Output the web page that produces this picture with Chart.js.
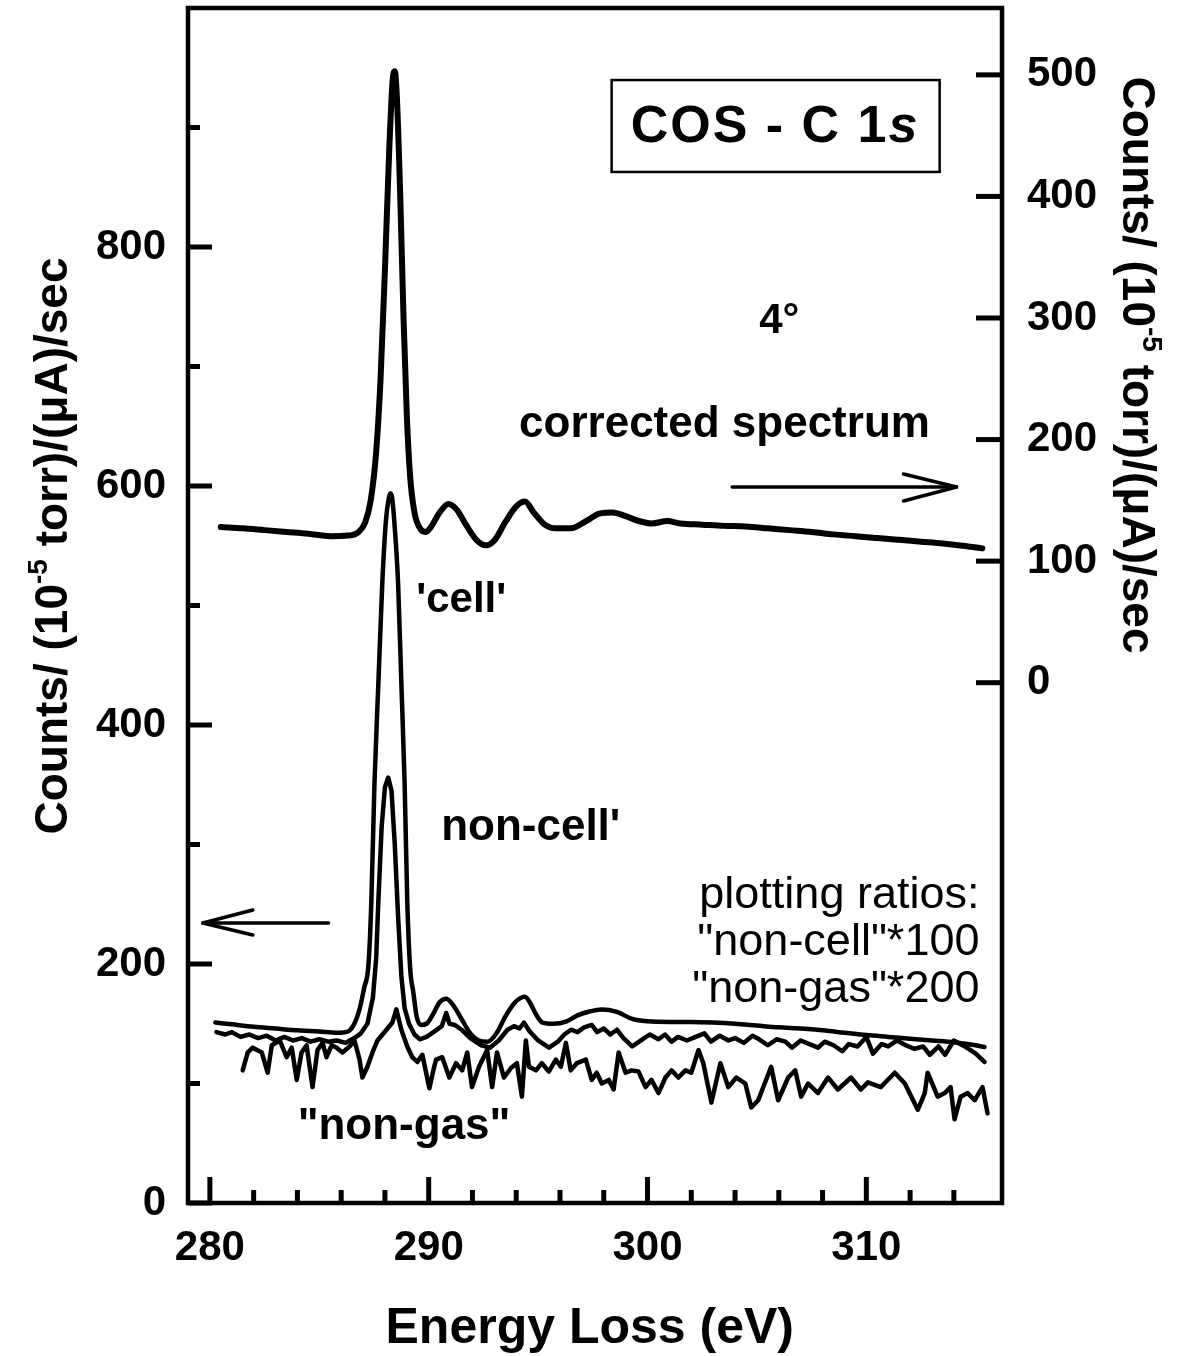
<!DOCTYPE html>
<html>
<head>
<meta charset="utf-8">
<script src="https://cdn.jsdelivr.net/npm/chart.js@4.4.1/dist/chart.umd.min.js"></script>
<style>
  html, body { margin: 0; padding: 0; background: #fff; }
  #wrap { width: 1187px; height: 1356px; }
</style>
</head>
<body>
<div id="wrap"><canvas id="myChart" width="1187" height="1356"></canvas></div>
<script>
  // tick values and labels
  var xTicks = [280, 282, 284, 286, 288, 290, 292, 294, 296, 298, 300, 302, 304, 306, 308, 310, 312, 314];
  var xLabels = [280, 290, 300, 310];
  var leftTicks = [0, 100, 200, 300, 400, 500, 600, 700, 800, 900];
  var leftLabels = [0, 200, 400, 600, 800];
  var rightTicks = [0, 100, 200, 300, 400, 500];

  // [energy loss (eV), counts]
  // corrected spectrum -> right axis
  var correctedSpectrum = [
    [280.5,128],[281.5,127],[282.5,125.5],[283.5,124],[284.5,122.5],[285.5,120.5],[286.3,121],[286.8,124],
    [287.1,132],[287.35,150],[287.6,190],[287.8,250],[288.0,340],[288.2,440],[288.35,495],[288.45,503],
    [288.55,480],[288.7,400],[288.85,300],[289.0,220],[289.15,170],[289.35,140],[289.6,127],[289.85,124],
    [290.1,128],[290.5,140],[290.9,147],[291.3,142],[291.7,130],[292.2,117],[292.6,113],[293.0,117],
    [293.5,132],[294.0,145],[294.4,149],[294.8,140],[295.3,130],[295.8,127],[296.5,127],[297.2,133],
    [297.8,139],[298.4,140],[299.0,137],[299.6,133],[300.2,131],[300.9,133],[301.5,131],[302.5,130],
    [303.5,129],[304.5,128.5],[305.5,127],[306.5,125.5],[307.5,124],[308.5,122],[309.5,120.5],[310.5,119],
    [311.5,117.5],[312.5,116],[313.5,114.5],[314.5,112.5],[315.3,110.5]
  ];
  // 'cell' -> left axis
  var cellSpectrum = [
    [280.25,151],[281.0,149.5],[282.0,147.5],[283.0,146],[284.0,144.5],[285.0,143.5],[285.8,142.5],[286.3,143.5],
    [286.6,150],[286.85,163],[287.05,180],[287.25,200],[287.38,253],[287.52,350],[287.7,435],[287.88,519],
    [288.05,572],[288.18,590],[288.25,594],[288.33,590],[288.45,565],[288.6,519],[288.75,435],[288.9,351],
    [289.02,253],[289.15,197],[289.3,176],[289.45,156],[289.65,149],[289.9,150],[290.2,158],[290.5,168],
    [290.8,171],[291.1,166],[291.5,154],[291.9,142],[292.3,136],[292.7,135],[293.1,142],[293.5,156],
    [293.9,167],[294.15,171],[294.4,172.5],[294.65,167],[294.9,158],[295.2,151],[295.7,150],[296.3,152],[296.8,157],
    [297.3,160],[297.9,162],[298.6,160],[299.3,154],[300.0,152],[301,151.5],[302,151.5],[303,151],
    [304,150],[305,148.5],[306,147],[307,146],[308,144.5],[309,142.5],[310,140.5],[311,139],
    [312,137.5],[313,136],[314,134.5],[315,132],[315.4,130.5]
  ];
  // "non-cell" * 100 -> left axis
  var nonCellSpectrum = [
    [280.3,143],[280.7,141],[281.0,143],[281.4,139],[281.8,141],[282.2,138],[282.6,140],[283.0,136],
    [283.4,139],[283.8,136],[284.2,138],[284.6,135],[285.0,137],[285.4,135],[285.8,136],[286.2,134],
    [286.6,138],[286.9,142],[287.2,150],[287.45,172],[287.6,205],[287.7,253],[287.85,315],[288.0,348],
    [288.15,356],[288.3,345],[288.45,300],[288.6,240],[288.75,190],[288.9,163],[289.1,150],[289.35,141],
    [289.6,137],[289.9,139],[290.3,144],[290.6,148],[290.8,159],[290.95,150],[291.2,149],[291.5,145],
    [291.9,138],[292.4,132],[292.8,130],[293.2,136],[293.6,145],[293.9,148],[294.15,146],[294.35,151],
    [294.6,144],[295.0,136],[295.5,130],[295.9,135],[296.2,141],[296.5,145],[296.8,143],[297.1,147],
    [297.45,149],[297.7,143],[298.0,146],[298.3,141],[298.6,145],[298.9,138],[299.3,131],[299.7,136],
    [300.1,141],[300.5,137],[300.8,141],[301.1,135],[301.4,139],[301.8,136],[302.2,139],[302.6,142],
    [302.9,135],[303.3,140],[303.7,136],[304.0,138],[304.4,134],[304.8,140],[305.1,137],[305.5,132],
    [305.9,137],[306.3,135],[306.6,130],[307.0,136],[307.4,133],[307.8,130],[308.1,135],[308.5,132],
    [308.9,127],[309.2,133],[309.6,131],[310.0,139],[310.3,125],[310.7,133],[311.0,131],[311.4,136],
    [311.8,132],[312.2,129],[312.6,131],[312.9,124],[313.3,131],[313.6,124],[314.0,136],[314.5,131],
    [315.0,125],[315.4,118]
  ];
  // "non-gas" * 200 -> left axis
  var nonGasSpectrum = [
    [281.5,111],[281.73,126],[281.96,130],[282.37,126],[282.64,109],[282.83,132],[283.19,136],[283.51,122],
    [283.74,130],[283.97,103],[284.19,126],[284.42,132],[284.69,97],[284.92,128],[285.15,134],[285.33,122],
    [285.56,132],[285.79,130],[286.06,126],[286.38,131],[286.61,136],[286.84,120],[286.97,105],[287.2,114],
    [287.43,126],[287.66,136],[288.07,145],[288.34,151],[288.52,162],[288.75,145],[289.02,131],[289.25,122],
    [289.48,118],[289.71,124],[290.03,96],[290.25,114],[290.34,120],[290.62,122],[290.94,105],[291.25,117],
    [291.53,111],[291.76,126],[291.98,97],[292.3,114],[292.67,128],[292.9,97],[293.12,126],[293.44,105],
    [293.76,113],[294.03,117],[294.26,89],[294.44,136],[294.58,114],[294.9,111],[295.17,117],[295.49,110],
    [295.81,120],[296.04,114],[296.27,134],[296.49,111],[296.77,117],[297.18,120],[297.45,103],[297.68,109],
    [297.91,100],[298.23,103],[298.45,95],[298.68,126],[299.0,109],[299.27,111],[299.59,110],[299.91,97],
    [300.18,103],[300.5,92],[300.82,105],[301.1,111],[301.41,105],[301.73,111],[302.0,109],[302.33,128],
    [302.55,117],[302.92,84],[303.33,117],[303.69,97],[304.06,105],[304.47,100],[304.74,80],[305.06,86],
    [305.65,114],[305.97,86],[306.43,105],[306.75,111],[307.02,89],[307.34,100],[307.79,92],[308.25,105],
    [308.7,95],[309.3,105],[309.75,95],[310.07,101],[310.66,97],[311.3,109],[311.76,100],[312.35,78],
    [312.67,92],[312.8,109],[313.26,89],[313.58,92],[313.85,97],[314.03,70],[314.31,89],[314.63,92],
    [314.95,86],[315.31,97],[315.54,75]
  ];

  var FONT = "'Liberation Sans', Arial, Helvetica, sans-serif";

  function toPoints(arr) {
    return arr.map(function (p) { return { x: p[0], y: p[1] }; });
  }

  function line(ctx, x1, y1, x2, y2) {
    ctx.beginPath();
    ctx.moveTo(x1, y1);
    ctx.lineTo(x2, y2);
    ctx.stroke();
  }

  // rotated axis title with the 10^-5 superscript
  function axisTitle(ctx, cx, cy, angle, size) {
    var parts = [
      { t: 'Counts/ (10', s: size, dy: 0 },
      { t: '-5', s: Math.round(size * 0.6), dy: -size * 0.42 },
      { t: ' torr)/(\u03bcA)/sec', s: size, dy: 0 }
    ];
    ctx.save();
    ctx.translate(cx, cy);
    ctx.rotate(angle);
    var total = 0;
    parts.forEach(function (p) {
      ctx.font = 'bold ' + p.s + 'px ' + FONT;
      p.w = ctx.measureText(p.t).width;
      total += p.w;
    });
    var xx = -total / 2;
    ctx.textAlign = 'left';
    ctx.textBaseline = 'alphabetic';
    parts.forEach(function (p) {
      ctx.font = 'bold ' + p.s + 'px ' + FONT;
      ctx.fillText(p.t, xx, size * 0.36 + p.dy);
      xx += p.w;
    });
    ctx.restore();
  }

  var decorations = {
    id: 'decorations',
    afterDraw: function (chart) {
      var ctx = chart.ctx, a = chart.chartArea;
      var sx = chart.scales.x, sl = chart.scales.y, sr = chart.scales.y2;
      function X(v) { return sx.getPixelForValue(v); }
      function Y(v) { return sl.getPixelForValue(v); }
      function text(str, xv, yv, size, weight, align) {
        ctx.font = weight + ' ' + size + 'px ' + FONT;
        ctx.textAlign = align;
        ctx.textBaseline = 'alphabetic';
        ctx.fillText(str, X(xv), Y(yv));
      }

      ctx.save();
      ctx.strokeStyle = '#000';
      ctx.fillStyle = '#000';
      ctx.lineCap = 'butt';

      // frame
      ctx.lineWidth = 4.5;
      ctx.strokeRect(a.left, a.top, a.right - a.left, a.bottom - a.top);

      // inward ticks
      ctx.lineWidth = 5;
      xTicks.forEach(function (v) {
        var len = xLabels.indexOf(v) >= 0 ? 26 : 13;
        line(ctx, X(v), a.bottom, X(v), a.bottom - len);
      });
      leftTicks.forEach(function (v) {
        var len = leftLabels.indexOf(v) >= 0 ? 24 : 12;
        line(ctx, a.left, Y(v), a.left + len, Y(v));
      });
      rightTicks.forEach(function (v) {
        var p = sr.getPixelForValue(v);
        line(ctx, a.right, p, a.right - 26, p);
      });

      // COS - C 1s box
      ctx.lineWidth = 2.5;
      ctx.strokeRect(X(298.36), Y(939.7), X(313.35) - X(298.36), Y(862.8) - Y(939.7));
      ctx.font = 'bold 52px ' + FONT;
      ctx.letterSpacing = '2px';
      var w1 = ctx.measureText('COS - C 1').width;
      ctx.font = 'italic bold 52px ' + FONT;
      var w2 = ctx.measureText('s').width;
      var left0 = X(305.83) - (w1 + w2) / 2;
      ctx.textAlign = 'left';
      ctx.textBaseline = 'alphabetic';
      ctx.font = 'bold 52px ' + FONT;
      ctx.fillText('COS - C 1', left0, Y(887.9));
      ctx.font = 'italic bold 52px ' + FONT;
      ctx.fillText('s', left0 + w1, Y(887.9));
      ctx.letterSpacing = '0px';

      // annotations
      text('4\u00b0', 306.02, 728, 42, 'bold', 'center');
      text('corrected spectrum', 294.13, 641, 44, 'bold', 'left');
      text("'cell'", 289.43, 494.6, 42, 'bold', 'left');
      text("non-cell'", 290.57, 303.8, 44, 'bold', 'left');
      text('"non-gas"', 284.01, 53.6, 44, 'bold', 'left');
      text('plotting ratios:', 315.17, 246.9, 45, 'normal', 'right');
      text('"non-cell"*100', 315.17, 207.5, 45, 'normal', 'right');
      text('"non-gas"*200', 315.17, 168.2, 45, 'normal', 'right');

      // arrows
      ctx.lineWidth = 3.5;
      ctx.lineCap = 'round';
      var ya = Y(599.2);
      line(ctx, X(303.87), ya, X(314.12), ya);
      line(ctx, X(311.7), ya - 13, X(314.12), ya);
      line(ctx, X(311.7), ya + 14, X(314.12), ya);
      var yb = Y(234.3);
      line(ctx, X(285.42), yb, X(279.68), yb);
      line(ctx, X(281.96), yb - 13, X(279.68), yb);
      line(ctx, X(281.96), yb + 12, X(279.68), yb);

      // axis titles
      axisTitle(ctx, 50, 546, -Math.PI / 2, 46);
      axisTitle(ctx, 1140, 365, Math.PI / 2, 46);
      ctx.font = 'bold 50px ' + FONT;
      ctx.textAlign = 'center';
      ctx.textBaseline = 'alphabetic';
      ctx.fillText('Energy Loss (eV)', X(297.36), a.bottom + 140);

      ctx.restore();
    }
  };

  Chart.defaults.font.family = FONT;
  Chart.defaults.color = '#000';

  var tickFont = { family: FONT, size: 42, weight: 'bold' };

  function fitY(width) {
    return function (s) {
      s.width = width;
      s.paddingTop = 0;
      s.paddingBottom = 0;
    };
  }

  var ctx = document.getElementById('myChart').getContext('2d');
  var chart = new Chart(ctx, {
    type: 'line',
    data: {
      datasets: [{
        label: 'corrected spectrum',
        data: toPoints(correctedSpectrum),
        yAxisID: 'y2',
        borderColor: '#000',
        borderWidth: 6,
        pointRadius: 0,
        cubicInterpolationMode: 'monotone',
        borderJoinStyle: 'round',
        borderCapStyle: 'round'
      }, {
        label: "'cell'",
        data: toPoints(cellSpectrum),
        yAxisID: 'y',
        borderColor: '#000',
        borderWidth: 4.5,
        pointRadius: 0,
        cubicInterpolationMode: 'monotone',
        borderJoinStyle: 'round',
        borderCapStyle: 'round'
      }, {
        label: '"non-cell"*100',
        data: toPoints(nonCellSpectrum),
        yAxisID: 'y',
        borderColor: '#000',
        borderWidth: 4.5,
        pointRadius: 0,
        tension: 0,
        borderJoinStyle: 'round',
        borderCapStyle: 'round'
      }, {
        label: '"non-gas"*200',
        data: toPoints(nonGasSpectrum),
        yAxisID: 'y',
        borderColor: '#000',
        borderWidth: 4.5,
        pointRadius: 0,
        tension: 0,
        borderJoinStyle: 'round',
        borderCapStyle: 'round'
      }]
    },
    options: {
      responsive: false,
      devicePixelRatio: 1,
      animation: false,
      layout: { padding: { top: 8, left: 0, right: 0, bottom: 0 } },
      plugins: { legend: { display: false }, tooltip: { enabled: false } },
      scales: {
        x: {
          type: 'linear',
          min: 279,
          max: 316.2,
          grid: { display: false, drawTicks: false },
          border: { display: false },
          afterBuildTicks: function (s) { s.ticks = xTicks.map(function (v) { return { value: v }; }); },
          afterFit: function (s) { s.height = 153; s.paddingLeft = 0; s.paddingRight = 0; },
          ticks: {
            autoSkip: false,
            maxRotation: 0,
            padding: 20,
            font: tickFont,
            color: '#000',
            callback: function (v) { return xLabels.indexOf(v) >= 0 ? String(v) : ''; }
          }
        },
        y: {
          position: 'left',
          min: 0,
          max: 1000,
          grid: { display: false, drawTicks: false },
          border: { display: false },
          afterBuildTicks: function (s) { s.ticks = leftTicks.map(function (v) { return { value: v }; }); },
          afterFit: fitY(188),
          ticks: {
            autoSkip: false,
            padding: 22,
            font: tickFont,
            color: '#000',
            callback: function (v) { return leftLabels.indexOf(v) >= 0 ? String(v) : ''; }
          }
        },
        y2: {
          position: 'right',
          min: -428,
          max: 555,
          grid: { display: false, drawTicks: false },
          border: { display: false },
          afterBuildTicks: function (s) { s.ticks = rightTicks.map(function (v) { return { value: v }; }); },
          afterFit: fitY(185),
          ticks: {
            autoSkip: false,
            padding: 25,
            font: tickFont,
            color: '#000'
          }
        }
      }
    },
    plugins: [decorations]
  });
</script>
</body>
</html>
